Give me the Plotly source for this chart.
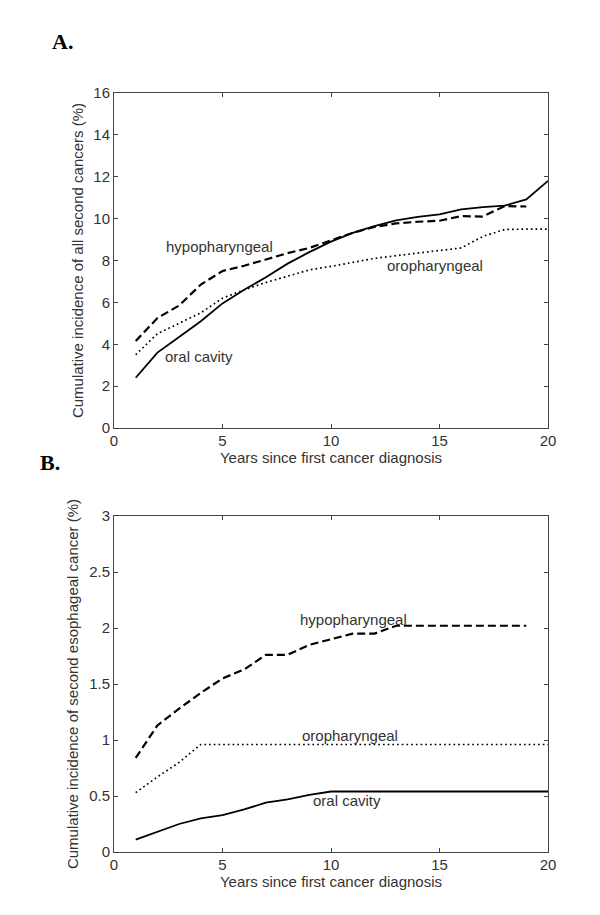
import plotly.graph_objects as go

# years after first cancer
years = list(range(1, 21))
years_hypo = list(range(1, 20))

# A. all second cancers (%)
a_oral = [2.4, 3.6, 4.35, 5.1, 5.95, 6.6, 7.2, 7.85, 8.4, 8.9,
          9.32, 9.64, 9.92, 10.08, 10.2, 10.44, 10.55, 10.62, 10.92, 11.8]
a_oro = [3.5, 4.5, 5.0, 5.5, 6.2, 6.6, 6.95, 7.25, 7.55, 7.72,
         7.9, 8.1, 8.23, 8.35, 8.47, 8.6, 9.15, 9.48, 9.5, 9.5]
a_hypo = [4.15, 5.25, 5.85, 6.85, 7.5, 7.75, 8.05, 8.35, 8.6, 8.95,
          9.32, 9.6, 9.77, 9.85, 9.9, 10.12, 10.1, 10.6, 10.58]

# B. second esophageal cancer (%)
b_oral = [0.11, 0.18, 0.25, 0.3, 0.33, 0.38, 0.44, 0.47, 0.51, 0.54,
          0.54, 0.54, 0.54, 0.54, 0.54, 0.54, 0.54, 0.54, 0.54, 0.54]
b_oro = [0.53, 0.67, 0.8, 0.96, 0.96, 0.96, 0.96, 0.96, 0.96, 0.96,
         0.96, 0.96, 0.96, 0.96, 0.96, 0.96, 0.96, 0.96, 0.96, 0.96]
b_hypo = [0.84, 1.13, 1.28, 1.42, 1.55, 1.63, 1.76, 1.76, 1.85, 1.9,
          1.95, 1.95, 2.02, 2.02, 2.02, 2.02, 2.02, 2.02, 2.02]

a_yticks = [0, 2, 4, 6, 8, 10, 12, 14, 16]
b_yticks = [0, 0.5, 1, 1.5, 2, 2.5, 3]
b_yticktext = ["0", "0.5", "1", "1.5", "2", "2.5", "3"]
xticks = [0, 5, 10, 15, 20]

FONT = dict(family="Liberation Sans, Arial, sans-serif", size=15, color="#333")
AXCOL = "#444"

SOLID = dict(color="black", width=1.8)
DASHED = dict(color="black", width=2.2, dash="8px,4px")
DOTTED = dict(color="black", width=1.7, dash="1.7px,3px")

fig = go.Figure()

# panel A
fig.add_trace(go.Scatter(x=years, y=a_oral, mode="lines", line=SOLID, xaxis="x", yaxis="y"))
fig.add_trace(go.Scatter(x=years, y=a_oro, mode="lines", line=DOTTED, xaxis="x", yaxis="y"))
fig.add_trace(go.Scatter(x=years_hypo, y=a_hypo, mode="lines", line=DASHED, xaxis="x", yaxis="y"))
# panel B
fig.add_trace(go.Scatter(x=years, y=b_oral, mode="lines", line=SOLID, xaxis="x2", yaxis="y2"))
fig.add_trace(go.Scatter(x=years, y=b_oro, mode="lines", line=DOTTED, xaxis="x2", yaxis="y2"))
fig.add_trace(go.Scatter(x=years_hypo, y=b_hypo, mode="lines", line=DASHED, xaxis="x2", yaxis="y2"))

axis_common = dict(showline=True, linecolor=AXCOL, linewidth=1, mirror="ticks",
                   ticks="inside", ticklen=4, tickcolor=AXCOL, showgrid=False,
                   zeroline=False, tickfont=FONT, automargin=False)
xaxis_common = dict(ticklabelstandoff=-1, **axis_common)
yaxis_common = dict(ticklabelstandoff=0, **axis_common)

xdom = [114 / 600, 548 / 600]
fig.update_layout(
    width=600, height=915,
    margin=dict(l=0, r=0, t=0, b=0),
    paper_bgcolor="white", plot_bgcolor="white",
    showlegend=False,
    font=FONT,
    xaxis=dict(domain=xdom, range=[0, 20], tickvals=xticks, anchor="y",
               title=dict(text="Years since first cancer diagnosis", font=FONT, standoff=2),
               **xaxis_common),
    yaxis=dict(domain=[1 - 428 / 915, 1 - 93 / 915], range=[0, 16], tickvals=a_yticks,
               anchor="x",
               title=dict(text="Cumulative incidence of all second cancers (%)", font=FONT, standoff=6),
               **yaxis_common),
    xaxis2=dict(domain=xdom, range=[0, 20], tickvals=xticks, anchor="y2",
                title=dict(text="Years since first cancer diagnosis", font=FONT, standoff=2),
                **xaxis_common),
    yaxis2=dict(domain=[1 - 852 / 915, 1 - 516 / 915], range=[0, 3], tickvals=b_yticks,
                ticktext=b_yticktext, anchor="x2",
                title=dict(text="Cumulative incidence of second esophageal cancer (%)", font=FONT, standoff=6),
                **yaxis_common),
)

# curve labels
labels = [
    ("x", "y", 2.3, 8.65, "hypopharyngeal"),
    ("x", "y", 2.25, 3.4, "oral cavity"),
    ("x", "y", 12.5, 7.75, "oropharyngeal"),
    ("x2", "y2", 8.5, 2.08, "hypopharyngeal"),
    ("x2", "y2", 8.55, 1.04, "oropharyngeal"),
    ("x2", "y2", 9.1, 0.46, "oral cavity"),
]
for xr, yr, lx, ly, txt in labels:
    fig.add_annotation(x=lx, y=ly, xref=xr, yref=yr, text=txt, showarrow=False,
                       xanchor="left", yanchor="middle", font=FONT)

# panel letters
panel_font = dict(family="Liberation Serif, Times New Roman, serif", size=22, color="black")
fig.add_annotation(x=50 / 600, y=1 - 42 / 915, xref="paper", yref="paper", text="<b>A.</b>",
                   showarrow=False, xanchor="left", yanchor="middle", font=panel_font)
fig.add_annotation(x=38 / 600, y=1 - 463 / 915, xref="paper", yref="paper", text="<b>B.</b>",
                   showarrow=False, xanchor="left", yanchor="middle", font=panel_font)

# page body has a default 8px margin; drop it so the figure sits at the corner
fig.write_html("out.html", config={"displayModeBar": False},
               post_script="document.body.style.margin='0px';")
